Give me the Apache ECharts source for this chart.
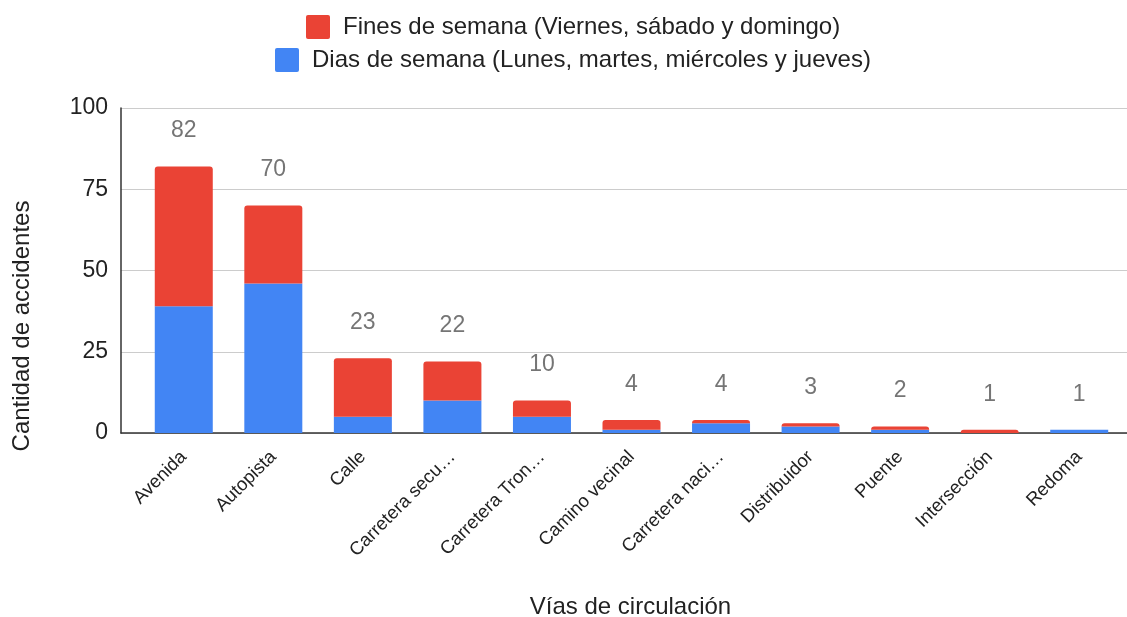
<!DOCTYPE html>
<html>
<head>
<meta charset="utf-8">
<script src="https://cdn.jsdelivr.net/npm/echarts@6/dist/echarts.min.js"></script>
<style>
  html, body { margin: 0; padding: 0; background: #fff; }
  #chart { width: 1127px; height: 617px; }
</style>
</head>
<body>
<div id="chart"></div>
<script>
// vías de circulación (etiquetas tal como salen en el eje, ya recortadas)
var categorias = ['Avenida', 'Autopista', 'Calle', 'Carretera secu…', 'Carretera Tron…',
  'Camino vecinal', 'Carretera naci…', 'Distribuidor', 'Puente', 'Intersección', 'Redoma'];
var diasSemana = [39, 46, 5, 10, 5, 1, 3, 2, 1, 0, 1];
var finesSemana = [43, 24, 18, 12, 5, 3, 1, 1, 1, 1, 0];
var yTicks = [0, 25, 50, 75, 100];

var nombreFines = 'Fines de semana (Viernes, sábado y domingo)';
var nombreDias = 'Dias de semana (Lunes, martes, miércoles y jueves)';

var totales = diasSemana.map(function (v, i) { return v + finesSemana[i]; });

var fuente = 'Arial, "Liberation Sans", sans-serif';
// cuadrado con esquinas apenas redondeadas para la leyenda
var iconoLeyenda = 'path://M2,0H22A2,2 0 0 1 24,2V22A2,2 0 0 1 22,24H2A2,2 0 0 1 0,22V2A2,2 0 0 1 2,0Z';
var chart = echarts.init(document.getElementById('chart'));

var option = {
  animation: false,
  textStyle: { fontFamily: fuente },
  legend: [
    {
      data: [nombreFines],
      left: 301, top: 10,
      itemWidth: 24, itemHeight: 24, itemGap: 10,
      icon: iconoLeyenda,
      textStyle: { fontSize: 24, color: '#222', fontFamily: fuente, padding: [0, 0, 0, 8] }
    },
    {
      data: [nombreDias],
      left: 270, top: 43,
      itemWidth: 24, itemHeight: 24, itemGap: 10,
      icon: iconoLeyenda,
      textStyle: { fontSize: 24, color: '#222', fontFamily: fuente, padding: [0, 0, 0, 8] }
    }
  ],
  grid: [
    { left: 121, right: 0, top: 108, bottom: 184, outerBoundsMode: 'none' },
    { left: 139, right: 3, top: 108, bottom: 184, outerBoundsMode: 'none' }
  ],
  graphic: [{
    type: 'text',
    x: 10, y: 326,
    rotation: Math.PI / 2,
    style: {
      text: 'Cantidad de accidentes',
      fill: '#222',
      font: '24px ' + fuente,
      align: 'center',
      verticalAlign: 'top'
    }
  }],
  xAxis: [
    {
      gridIndex: 0,
      type: 'value', min: 0, max: 1,
      axisLine: { show: true, lineStyle: { color: '#333', width: 1.5 } },
      axisTick: { show: false }, axisLabel: { show: false }, splitLine: { show: false },
      name: 'Vías de circulación',
      nameLocation: 'middle',
      nameGap: 162,
      nameTextStyle: { fontSize: 24, color: '#222', fontFamily: fuente, padding: [0, 0, 0, 13] }
    },
    {
      gridIndex: 1,
      type: 'category',
      data: categorias,
      axisLine: { show: false },
      axisTick: { show: false },
      axisLabel: {
        interval: 0,
        rotate: 45,
        margin: 21,
        fontSize: 18.5,
        color: '#222',
        fontFamily: fuente
      }
    }
  ],
  yAxis: [
    {
      gridIndex: 0,
      type: 'value',
      min: yTicks[0], max: yTicks[yTicks.length - 1], interval: 25,
      axisLine: { show: true, lineStyle: { color: '#333', width: 1.5 } },
      axisTick: { show: false },
      axisLabel: { margin: 13, fontSize: 23, color: '#222', fontFamily: fuente },
      splitLine: { lineStyle: { color: '#cccccc', width: 1 } }
    },
    {
      gridIndex: 1,
      type: 'value',
      min: yTicks[0], max: yTicks[yTicks.length - 1],
      show: false,
      splitLine: { show: false }
    }
  ],
  series: [
    {
      name: nombreDias,
      type: 'bar',
      xAxisIndex: 1, yAxisIndex: 1,
      stack: 'total',
      barWidth: 58,
      itemStyle: { color: '#4285f4' },
      data: diasSemana
    },
    {
      name: nombreFines,
      type: 'bar',
      xAxisIndex: 1, yAxisIndex: 1,
      stack: 'total',
      barWidth: 58,
      itemStyle: { color: '#ea4335', borderRadius: [3, 3, 0, 0] },
      label: {
        show: true,
        position: 'top',
        distance: 24,
        fontSize: 23,
        color: '#757575',
        fontFamily: fuente,
        formatter: function (p) { return totales[p.dataIndex]; }
      },
      data: finesSemana
    }
  ]
};

chart.setOption(option);
</script>
</body>
</html>
